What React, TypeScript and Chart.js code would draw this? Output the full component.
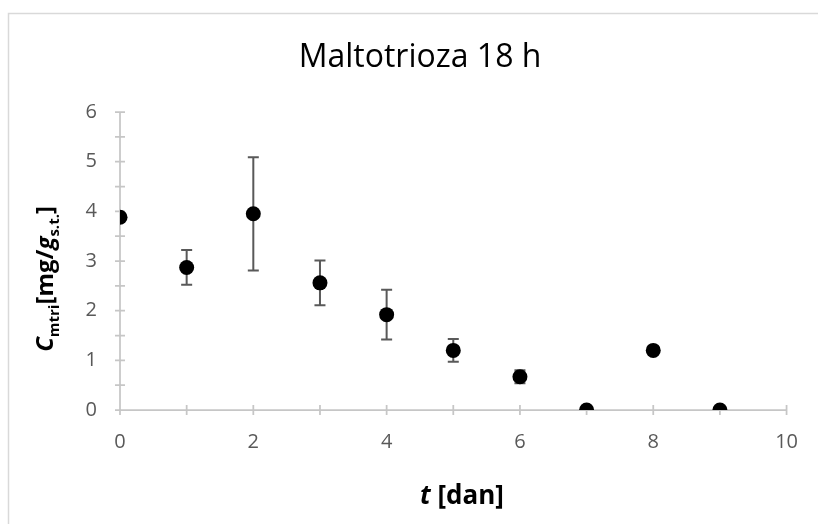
import React, { useEffect, useRef } from "react";
import { Chart, registerables } from "chart.js";

Chart.register(...registerables);

// ---- data ----
const chartTitle = "Maltotrioza 18 h";
const days = [0, 1, 2, 3, 4, 5, 6, 7, 8, 9];
const means = [3.88, 2.87, 3.95, 2.56, 1.92, 1.2, 0.67, 0, 1.2, 0];
const errors = [0, 0.35, 1.14, 0.45, 0.5, 0.23, 0.13, 0, 0, 0];
const xMin = 0;
const xMax = 10;
const xLabelStep = 2;
const xTickStep = 1;
const yMin = 0;
const yMax = 6;
const yLabelStep = 1;
const yTickStep = 0.5;

const FONT = "'Open Sans', 'DejaVu Sans', sans-serif";
const AXIS_COLOR = "#c6c6c6";
const ERR_COLOR = "#595959";

type Seg = { t: string; size: number; italic?: boolean; sub?: boolean };

function drawRich(ctx: CanvasRenderingContext2D, segs: Seg[], cx: number, baseY: number) {
  const fontOf = (s: Seg) => `${s.italic ? "italic " : ""}bold ${s.size}px ${FONT}`;
  let total = 0;
  const widths = segs.map((s) => {
    ctx.font = fontOf(s);
    const w = ctx.measureText(s.t).width;
    total += w;
    return w;
  });
  let x = cx - total / 2;
  ctx.textAlign = "left";
  ctx.textBaseline = "alphabetic";
  segs.forEach((s, i) => {
    ctx.font = fontOf(s);
    ctx.fillText(s.t, x, baseY + (s.sub ? 6 : 0));
    x += widths[i];
  });
}

const decor = {
  id: "decor",
  beforeDraw(chart: any) {
    const ctx = chart.ctx as CanvasRenderingContext2D;
    ctx.save();
    ctx.fillStyle = "#ffffff";
    ctx.fillRect(0, 0, chart.width, chart.height);
    ctx.strokeStyle = "#d9d9d9";
    ctx.lineWidth = 1.5;
    ctx.strokeRect(8.5, 13.5, chart.width + 20, chart.height + 20);
    ctx.restore();
  },
  beforeDatasetsDraw(chart: any) {
    const ctx = chart.ctx as CanvasRenderingContext2D;
    const xs = chart.scales.x;
    const ys = chart.scales.y;
    const x0 = xs.getPixelForValue(xMin);
    const x1 = xs.getPixelForValue(xMax);
    const y0 = ys.getPixelForValue(yMin);
    const y1 = ys.getPixelForValue(yMax);
    ctx.save();
    ctx.strokeStyle = AXIS_COLOR;
    ctx.lineWidth = 1.75;
    ctx.beginPath();
    ctx.moveTo(x0, y1);
    ctx.lineTo(x0, y0);
    ctx.moveTo(x0, y0);
    ctx.lineTo(x1, y0);
    for (let v = yMin; v <= yMax + 1e-9; v += yTickStep) {
      const py = ys.getPixelForValue(v);
      ctx.moveTo(x0 - 5, py);
      ctx.lineTo(x0 + 5, py);
    }
    for (let v = xMin; v <= xMax + 1e-9; v += xTickStep) {
      const px = xs.getPixelForValue(v);
      ctx.moveTo(px, y0 - 5);
      ctx.lineTo(px, y0 + 5);
    }
    ctx.stroke();

    // error bars
    ctx.strokeStyle = ERR_COLOR;
    ctx.lineWidth = 2;
    ctx.beginPath();
    days.forEach((d, i) => {
      const e = errors[i];
      if (!e) return;
      const px = xs.getPixelForValue(d);
      const pt = ys.getPixelForValue(means[i] + e);
      const pb = ys.getPixelForValue(means[i] - e);
      ctx.moveTo(px, pt);
      ctx.lineTo(px, pb);
      ctx.moveTo(px - 5.5, pt);
      ctx.lineTo(px + 5.5, pt);
      ctx.moveTo(px - 5.5, pb);
      ctx.lineTo(px + 5.5, pb);
    });
    ctx.stroke();
    ctx.restore();
  },
  afterDraw(chart: any) {
    const ctx = chart.ctx as CanvasRenderingContext2D;
    ctx.save();
    ctx.fillStyle = "#000000";
    // main title
    ctx.font = `32px ${FONT}`;
    ctx.textAlign = "center";
    ctx.textBaseline = "alphabetic";
    ctx.fillText(chartTitle, 420, 67);
    // x axis title
    drawRich(
      ctx,
      [
        { t: "t", size: 26, italic: true },
        { t: " [dan]", size: 26 },
      ],
      462,
      504
    );
    // y axis title (rotated)
    ctx.translate(53, 279);
    ctx.rotate(-Math.PI / 2);
    drawRich(
      ctx,
      [
        { t: "C", size: 24, italic: true },
        { t: "mtri", size: 15, sub: true },
        { t: "[mg/", size: 24 },
        { t: "g", size: 24, italic: true },
        { t: "s.t.", size: 15, sub: true },
        { t: "]", size: 24 },
      ],
      0,
      0
    );
    ctx.restore();
  },
};

export default function App() {
  const ref = useRef<HTMLCanvasElement>(null);
  useEffect(() => {
    const canvas = ref.current;
    if (!canvas) return;
    const chart = new Chart(canvas, {
      type: "scatter",
      data: {
        datasets: [
          {
            data: days.map((d, i) => ({ x: d, y: means[i] })),
            backgroundColor: "#000000",
            borderColor: "#000000",
            borderWidth: 0,
            pointRadius: 7.5,
            pointHoverRadius: 7.5,
            showLine: false,
          },
        ],
      },
      options: {
        responsive: false,
        animation: false,
        events: [],
        layout: { padding: { left: 0, right: 28, top: 112, bottom: 0 } },
        plugins: {
          legend: { display: false },
          tooltip: { enabled: false },
          title: { display: false },
        },
        scales: {
          x: {
            type: "linear",
            position: "bottom",
            min: xMin,
            max: xMax,
            ticks: {
              stepSize: xLabelStep,
              padding: 20,
              color: "#595959",
              font: { family: FONT, size: 20 },
            },
            grid: { display: false, drawTicks: false },
            border: { display: false },
            afterFit: (s: any) => {
              s.height = 114;
            },
          },
          y: {
            type: "linear",
            position: "left",
            min: yMin,
            max: yMax,
            ticks: {
              stepSize: yLabelStep,
              padding: 23,
              color: "#595959",
              font: { family: FONT, size: 20 },
            },
            grid: { display: false, drawTicks: false },
            border: { display: false },
            afterFit: (s: any) => {
              s.width = 120;
            },
          },
        },
      },
      plugins: [decor],
    } as any);
    return () => chart.destroy();
  }, []);
  return (
    <div style={{ position: "fixed", left: 0, top: 0, width: 818, height: 524, background: "#fff" }}>
      <canvas ref={ref} width={818} height={524} style={{ display: "block", width: 818, height: 524 }} />
    </div>
  );
}
